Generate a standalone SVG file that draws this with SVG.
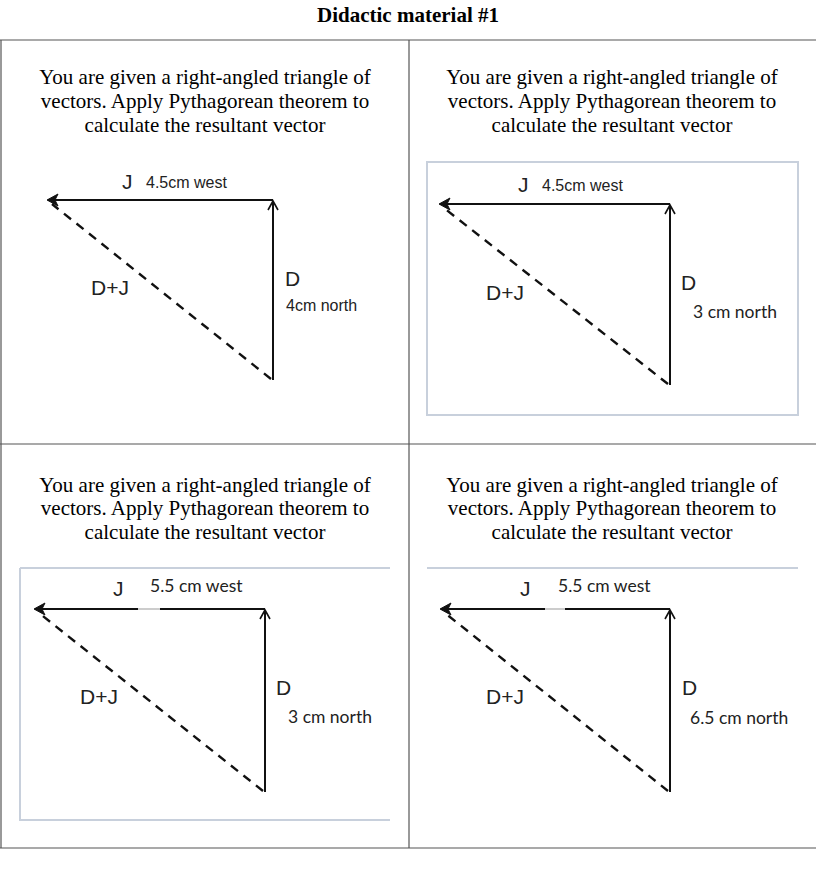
<svg xmlns="http://www.w3.org/2000/svg" width="816" height="890" viewBox="0 0 816 890">
<style>
.title{font-family:"Liberation Serif",serif;font-weight:bold;font-size:21px;text-anchor:middle;fill:#000}
.q{font-family:"Liberation Serif",serif;font-size:21px;text-anchor:middle;fill:#000}
.lbl{font-family:"Liberation Sans",Arial,sans-serif;fill:#222}
.cal{font-family:Lato,"Open Sans",sans-serif;fill:#222}
.vec{stroke:#111;stroke-width:2;fill:none}
.dash{stroke:#111;stroke-width:2.4;fill:none;stroke-dasharray:9,7}
.frame{stroke:#c8d0dc;stroke-width:2;fill:none}
.grid{stroke:#555;stroke-width:1.2;fill:none}
</style>
<defs>
<marker id="ah" markerWidth="12" markerHeight="12" refX="10" refY="6" orient="auto" markerUnits="userSpaceOnUse">
<path d="M1,1 L10,6 L1,11" fill="none" stroke="#111" stroke-width="1.6"/>
</marker>
<marker id="ahf" markerWidth="14" markerHeight="14" refX="11" refY="7" orient="auto" markerUnits="userSpaceOnUse">
<path d="M1,1 L12,7 L1,13 L4,7 Z" fill="#111" stroke="#111" stroke-width="1"/>
</marker>
</defs>
<rect width="816" height="890" fill="#fff"/>
<text class="title" x="408" y="22">Didactic material #1</text>
<g id="table">
<line class="grid" x1="0" y1="40" x2="816" y2="40"/>
<line class="grid" x1="0" y1="444" x2="816" y2="444"/>
<line class="grid" x1="0" y1="848" x2="816" y2="848"/>
<line class="grid" x1="1" y1="40" x2="1" y2="848"/>
<line class="grid" x1="409" y1="40" x2="409" y2="848"/>
</g>
<g id="cell1">
<text class="q" x="205" y="84">You are given a right-angled triangle of</text>
<text class="q" x="205" y="108">vectors. Apply Pythagorean theorem to</text>
<text class="q" x="205" y="132">calculate the resultant vector</text>
<text class="lbl" x="122" y="189" font-size="21">J</text>
<text class="lbl" x="146" y="188" font-size="16">4.5cm west</text>
<text class="lbl" x="285" y="286" font-size="21">D</text>
<text class="lbl" x="286" y="311" font-size="16">4cm north</text>
<text class="lbl" x="91" y="295" font-size="21">D+J</text>
</g>
<g id="cell2">
<text class="q" x="612" y="84">You are given a right-angled triangle of</text>
<text class="q" x="612" y="108">vectors. Apply Pythagorean theorem to</text>
<text class="q" x="612" y="132">calculate the resultant vector</text>
<rect class="frame" x="427" y="162" width="371" height="253"/>
<text class="lbl" x="518" y="192" font-size="21">J</text>
<text class="lbl" x="542" y="191" font-size="16">4.5cm west</text>
<text class="lbl" x="681" y="290" font-size="21">D</text>
<text class="cal" x="693" y="318" font-size="17.5">3 cm north</text>
<text class="lbl" x="486" y="300" font-size="21">D+J</text>
</g>
<g id="cell3">
<text class="q" x="205" y="492">You are given a right-angled triangle of</text>
<text class="q" x="205" y="515">vectors. Apply Pythagorean theorem to</text>
<text class="q" x="205" y="539">calculate the resultant vector</text>
<path class="frame" d="M20,568 H390 M20,568 V820 H390"/>
<text class="lbl" x="113" y="596" font-size="21">J</text>
<text class="cal" x="150" y="592" font-size="17.5">5.5 cm west</text>
<text class="lbl" x="276" y="695" font-size="21">D</text>
<text class="cal" x="288" y="723" font-size="17.5">3 cm north</text>
<text class="lbl" x="80" y="704" font-size="21">D+J</text>
</g>
<g id="cell4">
<text class="q" x="612" y="492">You are given a right-angled triangle of</text>
<text class="q" x="612" y="515">vectors. Apply Pythagorean theorem to</text>
<text class="q" x="612" y="539">calculate the resultant vector</text>
<path class="frame" d="M427,568 H798"/>
<text class="lbl" x="520" y="596" font-size="21">J</text>
<text class="cal" x="558" y="592" font-size="17.5">5.5 cm west</text>
<text class="lbl" x="682" y="695" font-size="21">D</text>
<text class="cal" x="690" y="724" font-size="17.5">6.5 cm north</text>
<text class="lbl" x="486" y="704" font-size="21">D+J</text>
</g>
<g id="connectors">
<line class="vec" x1="273" y1="200" x2="48" y2="200" marker-end="url(#ahf)"/>
<line class="vec" x1="273" y1="380" x2="273" y2="201" marker-end="url(#ah)"/>
<line class="dash" x1="271" y1="379" x2="52" y2="204"/>

<line class="vec" x1="670" y1="204" x2="440" y2="204" marker-end="url(#ahf)"/>
<line class="vec" x1="670" y1="385" x2="670" y2="205" marker-end="url(#ah)"/>
<line class="dash" x1="668" y1="384" x2="444" y2="208"/>

<path class="vec" d="M138,609 H35" marker-end="url(#ahf)"/>
<line stroke="#bbb" stroke-width="1.5" x1="138" y1="609" x2="161" y2="609"/>
<line class="vec" x1="265" y1="609" x2="160" y2="609"/>
<line class="vec" x1="265" y1="792" x2="265" y2="610" marker-end="url(#ah)"/>
<line class="dash" x1="263" y1="791" x2="39" y2="613"/>

<path class="vec" d="M545,609 H441" marker-end="url(#ahf)"/>
<line stroke="#bbb" stroke-width="1.5" x1="545" y1="609" x2="566" y2="609"/>
<line class="vec" x1="670" y1="609" x2="565" y2="609"/>
<line class="vec" x1="670" y1="792" x2="670" y2="610" marker-end="url(#ah)"/>
<line class="dash" x1="668" y1="791" x2="445" y2="613"/>
</g>
</svg>
